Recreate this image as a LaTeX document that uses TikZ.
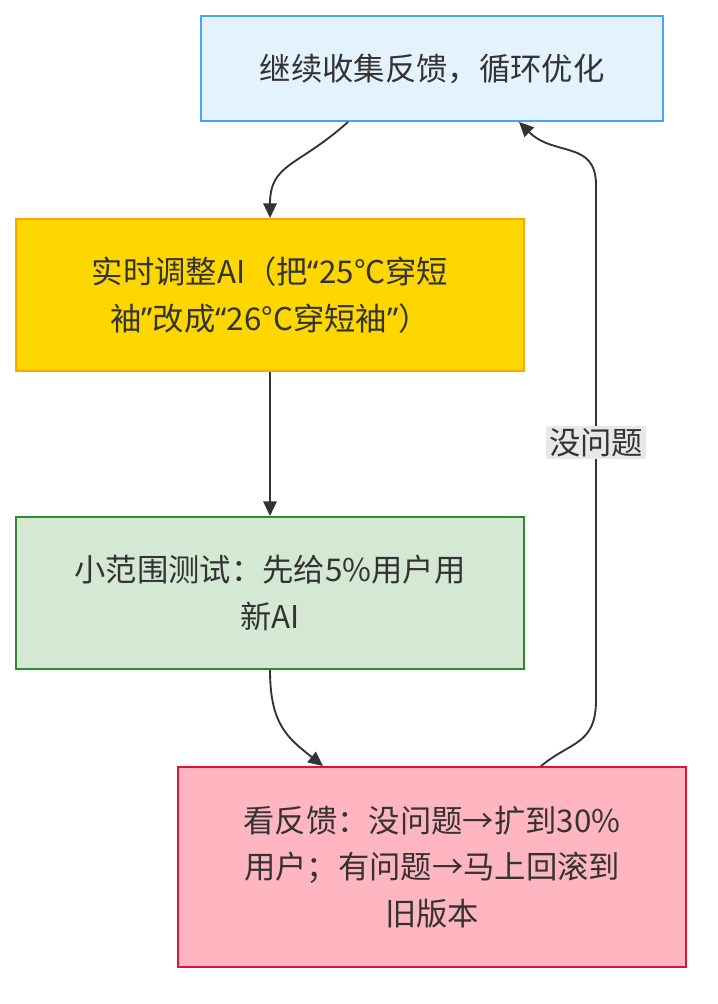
\documentclass[tikz,border=0pt]{standalone}
\usepackage{fontspec}
\setmainfont{Noto Sans CJK SC}
\newfontfamily\latinf{Noto Sans}
\usetikzlibrary{arrows.meta,positioning}
\definecolor{tinta}{HTML}{333333}
\definecolor{azulf}{HTML}{E3F2FD}
\definecolor{azull}{HTML}{42A5F5}
\definecolor{oro}{HTML}{FFD700}
\definecolor{naranja}{HTML}{FFA500}
\definecolor{verdef}{HTML}{D5E8D4}
\definecolor{verdel}{HTML}{2E8B2E}
\definecolor{rosaf}{HTML}{FFB6C1}
\definecolor{rosal}{HTML}{DC143C}
\definecolor{grisf}{HTML}{E8E8E8}
\newcommand{\cq}[1]{{\latinf #1}}

\begin{document}
\begin{tikzpicture}[x=0.75pt, y=-0.75pt,
    every node/.style={font=\fontsize{23.5}{35}\selectfont, text=tinta},
    caja/.style={draw, line width=1.4pt, align=center, inner sep=0pt},
    flecha/.style={draw=tinta, line width=1.4pt, -{Triangle[length=11pt,width=10pt]}},
    etiq/.style={fill=grisf, inner sep=2pt}]
			\useasboundingbox (0,0) rectangle (718,1004);
			\node[caja, draw=azull, fill=azulf, minimum width=346.5pt, minimum height=78.75pt] (fb) at (432,68.5) {继续收集反馈，循环优化};
			\node[caja, draw=naranja, fill=oro, minimum width=381pt, minimum height=114pt] (adj) at (270,295) {实时调整AI（把\cq{“}25°C穿短\\袖\cq{”}改成\cq{“}26°C穿短袖\cq{”}）};
			\node[caja, draw=verdel, fill=verdef, minimum width=381pt, minimum height=114pt] (test) at (270,593) {小范围测试：先给5\%用户用\\新AI};
			\node[caja, draw=rosal, fill=rosaf, minimum width=381pt, minimum height=150pt] (view) at (432,867) {看反馈：没问题→扩到30\%\\用户；有问题→马上回滚到\\旧版本};
			
			\coordinate (up) at (596,700);
			\coordinate (dn) at (596,185);
			
			\draw[flecha] ([xshift=-63pt]fb.south) .. controls +(-50,45) and +(0,-55) .. (adj.north);
			\draw[flecha] (adj) -- (test);
			\draw[flecha] (test.south) .. controls +(0,55) and +(-35,-28) .. ([xshift=-81.75pt]view.north);
			\draw[flecha] ([xshift=81.75pt]view.north) .. controls +(30,-25) and +(0,45) .. (up) -- node[etiq] {没问题} (dn) .. controls +(0,-45) and +(35,35) .. ([xshift=65.25pt]fb.south);
		\end{tikzpicture}
\end{document}
